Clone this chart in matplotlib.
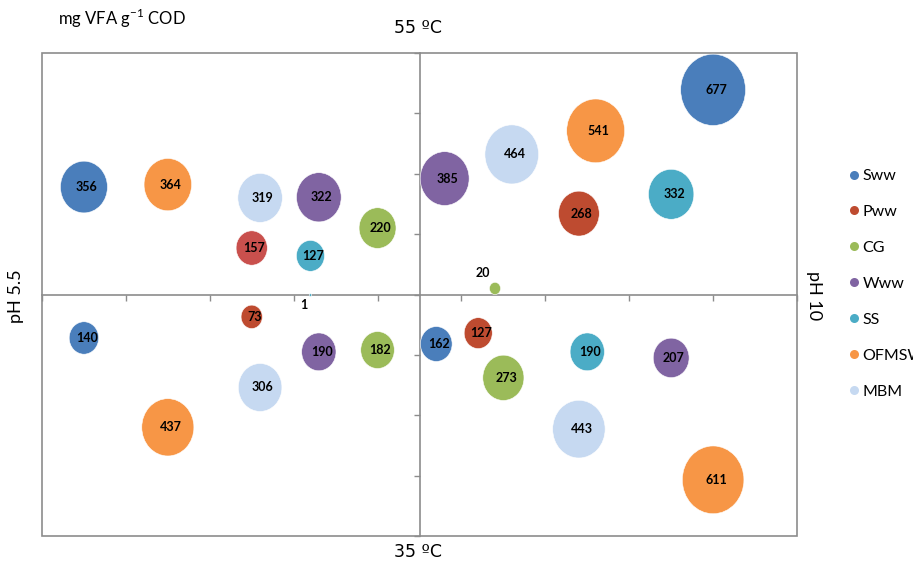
import matplotlib
matplotlib.use('Agg')
import matplotlib.pyplot as plt
import numpy as np
from matplotlib.path import Path
from matplotlib.lines import Line2D
from matplotlib.patches import Rectangle

plt.rcParams['font.family'] = ['Lato', 'DejaVu Sans']

# series and colours
series = ['Sww', 'Pww', 'CG', 'Www', 'SS', 'OFMSW', 'MBM']
colors = ['#4A7EBB', '#BE4B30', '#9BBB59', '#8064A2', '#4BACC6', '#F79646', '#C6D9F1']

# quadrants: 55ºC/pH5.5, 55ºC/pH10, 35ºC/pH5.5, 35ºC/pH10
x_pos = [
    [0.5, 8.0, 0.5, 4.7],   # Sww
    [2.5, 6.4, 2.5, 5.2],   # Pww
    [4.0, 5.4, 4.0, 5.5],   # CG
    [3.3, 4.8, 3.3, 7.5],   # Www
    [3.2, 7.5, 3.2, 6.5],   # SS
    [1.5, 6.6, 1.5, 8.0],   # OFMSW
    [2.6, 5.6, 2.6, 6.4],   # MBM
]
y_pos = [
    [5.78, 7.39, 3.28, 3.18],
    [4.77, 5.34, 3.63, 3.36],
    [5.10, 4.10, 3.08, 2.62],
    [5.61, 5.92, 3.05, 2.95],
    [4.64, 5.66, 3.99, 3.05],
    [5.82, 6.71, 1.80, 0.93],
    [5.60, 6.32, 2.46, 1.77],
]
vfa = [
    [356, 677, 140, 162],
    [157, 268, 73, 127],
    [220, 20, 182, 273],
    [322, 385, 190, 207],
    [127, 332, 1, 190],
    [364, 541, 437, 611],
    [319, 464, 306, 443],
]

fig = plt.figure(figsize=(9.13, 5.66), dpi=100)
ax = fig.add_axes([42 / 913, 30 / 566, 755 / 913, 483 / 566])
ax.set_xlim(0, 9)
ax.set_ylim(0, 8)

# bubbles look a bit taller than wide in the original
circ = Path.unit_circle()
ell = Path(circ.vertices * np.array([1 / 1.1, 1.0]), circ.codes)

for i, name in enumerate(series):
    cols = [colors[i]] * 4
    if name == 'Pww':
        cols[0] = '#C9504D'
    ax.scatter(x_pos[i], y_pos[i], s=np.array(vfa[i]) * 3.9, marker=ell,
               c=cols, edgecolors='white', linewidths=0.4, zorder=3)
    for j in range(4):
        v = vfa[i][j]
        off = (2, 0)
        if v < 50:
            off = (-9, 11) if v > 10 else (-5, -7)
        ax.annotate(str(v), (x_pos[i][j], y_pos[i][j]), xytext=off,
                    textcoords='offset points', ha='center', va='center',
                    fontsize=9, fontweight='bold', color='black', zorder=4)

# centre axes with ticks
for sp in ['top', 'right']:
    ax.spines[sp].set_visible(False)
ax.spines['left'].set_position(('data', 4.5))
ax.spines['bottom'].set_position(('data', 4))
for sp in ['left', 'bottom']:
    ax.spines[sp].set_color('#8C8C8C')
    ax.spines[sp].set_linewidth(1.2)
ax.set_xticks(np.arange(0, 10))
ax.set_yticks(np.arange(0, 9))
ax.tick_params(direction='out', length=4, width=1, color='#8C8C8C',
               labelbottom=False, labelleft=False)
ax.add_patch(Rectangle((0, 0), 1, 1, transform=ax.transAxes, fill=False,
                       edgecolor='#8C8C8C', linewidth=1.2, zorder=1, clip_on=False))

fig.text(58 / 913, 1 - 18 / 566, 'mg VFA g$^{\\mathregular{-1}}$ COD', fontsize=12,
         ha='left', va='center')
# DejaVu draws the underlined ordinal sign like the original
tfont = ['DejaVu Sans']
fig.text(418 / 913, 1 - 28 / 566, '55 ºC', fontsize=12.5, ha='center', va='center',
         family=tfont)
fig.text(418 / 913, 1 - 552 / 566, '35 ºC', fontsize=12.5, ha='center', va='center',
         family=tfont)
fig.text(16 / 913, 1 - 296 / 566, 'pH 5.5', fontsize=13, rotation=90,
         ha='center', va='center')
fig.text(814 / 913, 1 - 296 / 566, 'pH 10', fontsize=13, rotation=-90,
         ha='center', va='center')

handles = [Line2D([], [], marker='o', linestyle='none', markersize=6.5,
                  markerfacecolor=c, markeredgecolor='none') for c in colors]
fig.legend(handles, series, loc='upper left', bbox_to_anchor=(849 / 913, 1 - 169 / 566),
           frameon=False, fontsize=11.5, labelspacing=1.36, handlelength=0.6,
           handletextpad=0.25, borderpad=0, borderaxespad=0)

fig.savefig('out.png', dpi=100)
